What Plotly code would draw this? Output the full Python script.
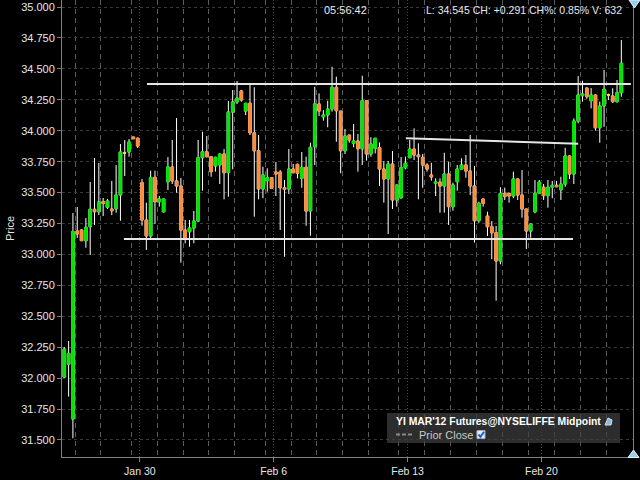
import plotly.graph_objects as go

# YI MAR'12 futures, intraday bars (weekends skipped, bar index on x)
opens = [32.009, 32.112, 31.669, 33.189, 33.197, 33.111, 33.224, 33.365, 33.345, 33.426,
         33.381, 33.367, 33.369, 33.480, 33.820, 33.828, 33.949, 33.939, 33.580, 33.278,
         33.149, 33.623, 33.426, 33.345, 33.588, 33.707, 33.594, 33.553, 33.197, 33.183,
         33.213, 33.270, 33.782, 33.830, 33.790, 33.715, 33.723, 33.812, 33.661, 34.151,
         34.232, 34.321, 34.159, 34.222, 33.984, 33.838, 33.529, 33.596, 33.620, 33.666,
         33.666, 33.539, 33.529, 33.690, 33.728, 33.615, 33.704, 33.351, 33.871, 34.216,
         34.113, 34.127, 34.175, 34.351, 34.159, 33.838, 33.965, 33.898, 33.917, 33.854,
         34.243, 33.812, 33.858, 33.863, 33.690, 33.610, 33.731, 33.440, 33.458, 33.701,
         33.782, 33.852, 33.804, 33.785, 33.723, 33.642, 33.575, 33.585, 33.553, 33.650,
         33.386, 33.588, 33.690, 33.723, 33.674, 33.553, 33.272, 33.448, 33.310, 33.224,
         33.175, 32.947, 33.494, 33.494, 33.472, 33.610, 33.480, 33.367, 33.189, 33.345,
         33.494, 33.543, 33.475, 33.543, 33.559, 33.523, 33.569, 33.796, 33.650, 34.078,
         34.283, 34.345, 34.243, 34.289, 34.024, 34.200, 34.289, 34.281, 34.235, 34.307]
highs = [32.251, 32.300, 33.335, 33.383, 33.205, 33.294, 33.585, 33.779, 33.739, 33.456,
         33.448, 33.594, 33.723, 33.893, 33.925, 33.933, 33.951, 33.945, 33.610, 33.418,
         33.677, 33.677, 33.472, 33.450, 33.787, 33.925, 34.103, 33.618, 33.278, 33.278,
         33.351, 33.925, 33.992, 33.957, 33.795, 33.790, 33.815, 33.852, 34.240, 34.329,
         34.402, 34.330, 34.225, 34.383, 34.351, 33.965, 33.709, 33.696, 33.625, 33.747,
         33.682, 33.602, 33.852, 33.731, 33.735, 33.828, 33.790, 33.903, 34.356, 34.302,
         34.167, 34.243, 34.517, 34.437, 34.160, 34.014, 33.967, 34.054, 33.973, 34.445,
         34.245, 33.947, 33.942, 33.906, 33.755, 33.755, 33.836, 33.565, 33.787, 33.790,
         33.925, 34.019, 33.898, 33.812, 33.737, 33.741, 33.615, 33.615, 33.822, 33.749,
         33.580, 33.723, 33.777, 33.804, 33.965, 33.715, 33.426, 33.450, 33.345, 33.270,
         33.230, 33.543, 33.540, 33.497, 33.669, 33.613, 33.682, 33.370, 33.250, 33.602,
         33.602, 33.569, 33.602, 33.594, 33.594, 33.628, 33.863, 33.800, 34.100, 34.442,
         34.404, 34.350, 34.345, 34.292, 34.235, 34.491, 34.300, 34.343, 34.410, 34.733]
lows = [32.001, 31.850, 31.513, 33.133, 33.109, 33.054, 32.995, 33.238, 33.318, 33.310,
        33.367, 33.318, 33.337, 33.272, 33.634, 33.790, 33.933, 33.860, 33.232, 33.036,
        33.133, 33.246, 33.386, 33.337, 33.521, 33.569, 33.499, 32.933, 33.090, 33.062,
        33.090, 33.260, 33.515, 33.785, 33.628, 33.669, 33.569, 33.445, 33.467, 33.688,
        34.216, 34.235, 34.127, 33.965, 33.305, 33.445, 33.454, 33.507, 33.529, 33.472,
        33.197, 32.981, 33.488, 33.655, 33.615, 33.539, 33.232, 33.151, 33.723, 34.119,
        34.081, 34.028, 34.154, 33.911, 33.656, 33.812, 33.903, 33.866, 33.669, 33.723,
        33.758, 33.790, 33.817, 33.553, 33.418, 33.165, 33.367, 33.386, 33.450, 33.688,
        33.778, 33.763, 33.445, 33.539, 33.669, 33.596, 33.472, 33.337, 33.337, 33.238,
        33.353, 33.515, 33.688, 33.620, 33.480, 33.095, 33.256, 33.386, 33.149, 32.961,
        32.626, 32.920, 33.440, 33.418, 33.454, 33.440, 33.297, 33.044, 33.135, 33.332,
        33.490, 33.440, 33.378, 33.454, 33.545, 33.440, 33.547, 33.610, 33.569, 34.060,
        34.235, 34.259, 34.181, 34.000, 33.903, 34.032, 34.248, 34.226, 34.226, 34.275]
closes = [32.235, 32.200, 33.184, 33.165, 33.111, 33.219, 33.365, 33.345, 33.424, 33.413,
          33.432, 33.353, 33.480, 33.828, 33.820, 33.909, 33.935, 33.876, 33.278, 33.149,
          33.623, 33.426, 33.448, 33.448, 33.707, 33.594, 33.553, 33.197, 33.135, 33.213,
          33.270, 33.782, 33.830, 33.790, 33.669, 33.785, 33.812, 33.661, 34.151, 34.232,
          34.264, 34.248, 34.222, 33.984, 33.838, 33.529, 33.642, 33.620, 33.534, 33.650,
          33.539, 33.526, 33.690, 33.661, 33.656, 33.704, 33.351, 33.866, 34.216, 34.159,
          34.127, 34.175, 34.351, 34.162, 33.838, 33.957, 33.925, 33.917, 33.854, 34.243,
          33.812, 33.893, 33.939, 33.690, 33.610, 33.731, 33.440, 33.561, 33.701, 33.737,
          33.852, 33.804, 33.790, 33.723, 33.690, 33.626, 33.585, 33.553, 33.650, 33.386,
          33.561, 33.690, 33.723, 33.674, 33.553, 33.272, 33.413, 33.413, 33.224, 33.175,
          32.947, 33.494, 33.467, 33.472, 33.610, 33.480, 33.367, 33.189, 33.246, 33.494,
          33.585, 33.475, 33.543, 33.559, 33.547, 33.569, 33.796, 33.650, 34.078, 34.289,
          34.297, 34.275, 34.289, 34.024, 34.200, 34.335, 34.289, 34.235, 34.307, 34.545]

# first bar of each week, and first bar of each session (dashed grid)
week_labels = ["Jan 30", "Feb 6", "Feb 13", "Feb 20"]
week_first_bar = [18, 49, 80, 111]
session_first_bar = [3, 9, 16, 22, 28, 34, 40, 47, 53, 59, 65, 71, 78, 84, 90, 96,
                     102, 108, 114, 120, 126]

# user-drawn trend lines: (start bar, start price, end bar, end price)
trend_lines = [(19.15, 34.378, 131.2, 34.378),
               (13.8, 33.124, 117.8, 33.124),
               (79.1, 33.939, 119.0, 33.895)]

header_time = "05:56:42"
header_info = "L: 34.545 CH: +0.291 CH%: 0.85% V: 632"
series_name = "YI MAR'12 Futures@NYSELIFFE Midpoint"

GREEN = "#00e400"
ORANGE = "#fb8c3c"
YELLOW = "#f0f000"
FONT = "Liberation Sans, Arial, sans-serif"

W, H = 640, 480
L, R, T, B = 62, 7, 0, 23


def pxx(px):
    return (px - L) / (W - L - R)


def pxy(py):
    return (H - B - py) / (H - B - T)


n = len(opens)
x = list(range(n))
body_hi = [max(o, c) for o, c in zip(opens, closes)]
body_lo = [min(o, c) for o, c in zip(opens, closes)]
doji = [i for i in x if opens[i] == closes[i]]

fig = go.Figure()

# wicks (white)
fig.add_trace(go.Candlestick(
    x=x, open=opens, high=highs, low=lows, close=closes,
    increasing=dict(line=dict(color="white", width=1), fillcolor="white"),
    decreasing=dict(line=dict(color="white", width=1), fillcolor="white"),
    showlegend=False, hoverinfo="skip"))

# coloured bodies drawn over the wicks
fig.add_trace(go.Candlestick(
    x=x, open=opens, high=body_hi, low=body_lo, close=closes,
    increasing=dict(line=dict(color=GREEN, width=1), fillcolor=GREEN),
    decreasing=dict(line=dict(color=ORANGE, width=1), fillcolor=ORANGE),
    showlegend=False, hoverinfo="skip"))

# unchanged bars in yellow
fig.add_trace(go.Candlestick(
    x=doji, open=[opens[i] for i in doji], high=[opens[i] for i in doji],
    low=[opens[i] for i in doji], close=[closes[i] for i in doji],
    increasing=dict(line=dict(color=YELLOW, width=2), fillcolor=YELLOW),
    decreasing=dict(line=dict(color=YELLOW, width=2), fillcolor=YELLOW),
    showlegend=False, hoverinfo="skip"))

shapes = []
for x0, y0, x1, y1 in trend_lines:
    shapes.append(dict(type="line", xref="x", yref="y", x0=x0, y0=y0, x1=x1, y1=y1,
                       line=dict(color="#e6e6e6", width=2)))

# legend box
shapes.append(dict(type="rect", xref="paper", yref="paper",
                   x0=pxx(387), x1=pxx(620), y0=pxy(443), y1=pxy(413),
                   fillcolor="rgba(62,62,62,0.72)", line=dict(width=0)))
shapes.append(dict(type="line", xref="paper", yref="paper",
                   x0=pxx(396), x1=pxx(413), y0=pxy(434.5), y1=pxy(434.5),
                   line=dict(color="#8a8a8a", width=2, dash="4px,2px")))
shapes.append(dict(type="rect", xref="paper", yref="paper",
                   x0=pxx(477), x1=pxx(485), y0=pxy(438.5), y1=pxy(430.5),
                   fillcolor="#e8eef8", line=dict(color="#9ab", width=1)))
shapes.append(dict(type="path", xref="paper", yref="paper",
                   path=f"M {pxx(478.5)},{pxy(434.5)} L {pxx(480.5)},{pxy(436.8)} L {pxx(484)},{pxy(431.8)}",
                   line=dict(color="#1f5fd0", width=2)))
# small icon after the series name
shapes.append(dict(type="path", xref="paper", yref="paper",
                   path=f"M {pxx(605)},{pxy(425)} L {pxx(608)},{pxy(418)} L {pxx(612)},{pxy(420)} L {pxx(611)},{pxy(425)} Z",
                   fillcolor="#8fb8e0", line=dict(color="#cfe0f0", width=1)))

# scroll triangles at the right edge
shapes.append(dict(type="path", xref="paper", yref="paper",
                   path=f"M {pxx(629)},{pxy(0)} L {pxx(640)},{pxy(0)} L {pxx(634.5)},{pxy(8)} Z",
                   fillcolor="#9ccbf0", line=dict(color="#e8f4ff", width=1)))
shapes.append(dict(type="path", xref="paper", yref="paper",
                   path=f"M {pxx(628)},{pxy(457.5)} L {pxx(639)},{pxy(457.5)} L {pxx(633.5)},{pxy(450)} Z",
                   fillcolor="#9ccbf0", line=dict(color="#e8f4ff", width=1)))

annotations = [
    dict(text=header_time, x=pxx(345), y=pxy(10), xref="paper", yref="paper",
         xanchor="center", yanchor="middle", showarrow=False,
         font=dict(family=FONT, size=11, color="#e8e8e8")),
    dict(text=header_info, x=pxx(624), y=pxy(10), xref="paper", yref="paper",
         xanchor="right", yanchor="middle", showarrow=False,
         font=dict(family=FONT, size=10.5, color="#e8e8e8")),
    dict(text="<b>" + series_name + "</b>", x=pxx(394), y=pxy(421.5),
         xref="paper", yref="paper", xanchor="left", yanchor="middle", showarrow=False,
         font=dict(family=FONT, size=10.4, color="#ffffff")),
    dict(text="Prior Close", x=pxx(417), y=pxy(434.5), xref="paper", yref="paper",
         xanchor="left", yanchor="middle", showarrow=False,
         font=dict(family=FONT, size=11, color="#c8c8c8")),
]

fig.update_layout(
    width=W, height=H,
    margin=dict(l=L, r=R, t=T, b=B),
    paper_bgcolor="#000000", plot_bgcolor="#000000",
    font=dict(family=FONT, size=11, color="#e0e0e0"),
    hovermode=False, showlegend=False,
    boxgap=0.25, boxgroupgap=0.2,
    shapes=shapes, annotations=annotations,
    xaxis=dict(
        type="linear", range=[-0.53, 131.7], automargin=False,
        tickmode="array", tickvals=[b - 0.5 for b in week_first_bar], ticktext=week_labels,
        ticks="outside", ticklen=4, tickcolor="#808080",
        tickfont=dict(family=FONT, size=10.5, color="#e6e6e6"),
        showgrid=True, gridcolor="#4a4a4a", griddash="1px,2px", gridwidth=1,
        minor=dict(tickmode="array", tickvals=[b - 0.5 for b in session_first_bar],
                   showgrid=True, gridcolor="#5c5c5c", griddash="5px,4px", gridwidth=1,
                   ticks=""),
        showline=True, linecolor="#808080", linewidth=1, zeroline=False,
        rangeslider=dict(visible=False), fixedrange=True),
    yaxis=dict(
        range=[31.362, 35.057], tick0=31.5, dtick=0.25, tickformat=".3f", automargin=False,
        ticks="outside", ticklen=4, tickcolor="#808080",
        tickfont=dict(family=FONT, size=11, color="#e6e6e6"),
        showgrid=True, gridcolor="#3a3a3a", griddash="3px,3px", gridwidth=1,
        showline=True, mirror=True, linecolor="#808080", linewidth=1, zeroline=False,
        title=dict(text="Price", standoff=4, font=dict(family=FONT, size=11, color="#e6e6e6")),
        fixedrange=True),
)

# the page's default body margin would push the 640x480 figure off the window
fig.write_html("out.html", config={"displayModeBar": False},
               post_script="document.body.style.margin='0';")
